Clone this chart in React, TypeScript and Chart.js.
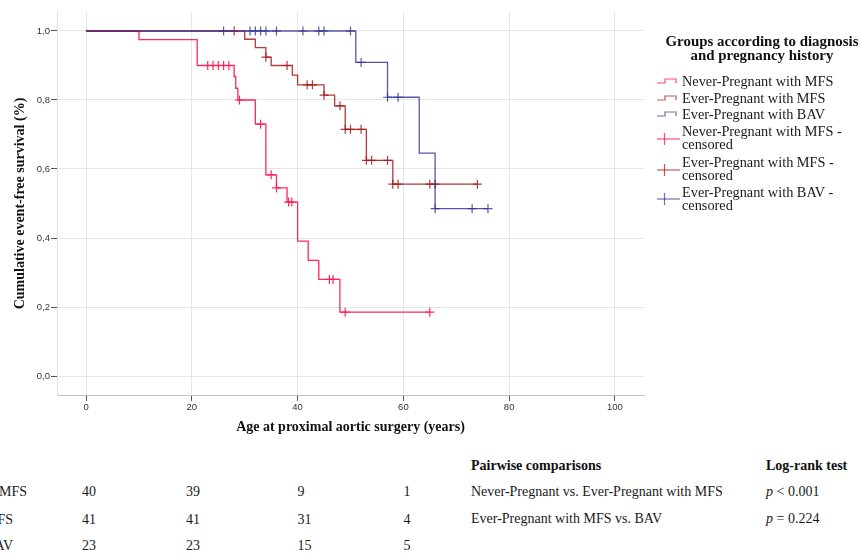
import React, { useEffect, useRef } from "react";
import { Chart, registerables } from "chart.js";

Chart.register(...registerables);

// ---- Kaplan-Meier step data (time in years, survival) ----
const neverT = [0, 10, 21, 28, 28.3, 28.7, 32, 34, 36, 38, 40, 42, 44, 48, 65];
const neverS = [1, 0.975, 0.9, 0.868, 0.834, 0.8, 0.73, 0.583, 0.545, 0.504, 0.391, 0.335, 0.28, 0.185, 0.185];
const neverCensored = [23, 24, 25, 26, 27, 29, 33, 35, 36, 38.3, 38.9, 46, 46.7, 49, 65];

const everMfsT = [0, 30, 32, 34, 35, 39, 40, 45, 47, 49, 53, 58, 74];
const everMfsS = [1, 0.976, 0.952, 0.924, 0.9, 0.872, 0.844, 0.814, 0.783, 0.715, 0.625, 0.556, 0.556];
const everMfsCensored = [28, 34, 38, 41.8, 42.8, 45, 48, 49, 50, 52, 53, 54, 57, 58, 59, 65, 66, 74];

const bavT = [0, 51, 57, 63, 66, 76];
const bavS = [1, 0.909, 0.808, 0.646, 0.485, 0.485];
const bavCensored = [26, 31, 32, 33, 34, 36, 41, 44, 45, 50, 52, 57, 59, 66, 73, 76];

// ---- axis ticks ----
const xTicks = [0, 20, 40, 60, 80, 100];
const yTicks = [0, 0.2, 0.4, 0.6, 0.8, 1.0];

// ---- numbers at risk ----
const riskLabels = ["Never-Pregnant with MFS", "Ever-Pregnant with MFS", "Ever-Pregnant with BAV"];
const riskNever = [40, 39, 9, 1];
const riskEverMfs = [41, 41, 31, 4];
const riskBav = [23, 23, 15, 5];

// ---- pairwise comparisons ----
const compLabels = ["Never-Pregnant vs. Ever-Pregnant with MFS", "Ever-Pregnant with MFS vs. BAV"];
const compOps = ["<", "="];
const compValues = ["0.001", "0.224"];

// ---- legend ----
const legendNames = ["Never-Pregnant with MFS", "Ever-Pregnant with MFS", "Ever-Pregnant with BAV"];

const PINK = "rgba(255,30,85,0.95)";
const RED = "rgba(165,25,25,0.85)";
const BLUE = "rgba(45,45,145,0.8)";
const colors = [PINK, RED, BLUE];

const SERIF = "'Liberation Serif', 'Times New Roman', serif";

function survivalAt(T: number[], S: number[], t: number) {
  let s = S[0];
  for (let i = 0; i < T.length; i++) if (T[i] <= t) s = S[i];
  return s;
}

function stepData(T: number[], S: number[]) {
  return T.map((t, i) => ({ x: t, y: S[i] }));
}

function censorData(T: number[], S: number[], C: number[]) {
  return C.map((t) => ({ x: t, y: survivalAt(T, S, t) }));
}

export default function App() {
  const ref = useRef<HTMLCanvasElement | null>(null);

  useEffect(() => {
    if (!ref.current) return;
    const lineDs = (label: string, T: number[], S: number[], color: string, order: number) => ({
      type: "line" as const,
      label,
      data: stepData(T, S),
      stepped: true,
      borderColor: color,
      borderWidth: 1.3,
      pointRadius: 0,
      fill: false,
      order,
    });
    const censDs = (label: string, T: number[], S: number[], C: number[], color: string, order: number) => ({
      type: "scatter" as const,
      label,
      data: censorData(T, S, C),
      pointStyle: "cross",
      pointRadius: 4.5,
      pointBorderWidth: 1.2,
      borderColor: color,
      backgroundColor: color,
      order,
    });
    const chart = new Chart(ref.current, {
      type: "line",
      data: {
        datasets: [
          lineDs(legendNames[2], bavT, bavS, BLUE, 1),
          censDs(legendNames[2] + " - censored", bavT, bavS, bavCensored, BLUE, 0),
          lineDs(legendNames[1], everMfsT, everMfsS, RED, 3),
          censDs(legendNames[1] + " - censored", everMfsT, everMfsS, everMfsCensored, RED, 2),
          lineDs(legendNames[0], neverT, neverS, PINK, 5),
          censDs(legendNames[0] + " - censored", neverT, neverS, neverCensored, PINK, 4),
        ] as any,
      },
      options: {
        animation: false,
        responsive: false,
        maintainAspectRatio: false,
        devicePixelRatio: 1,
        layout: { padding: { top: 12, right: 217, bottom: 0, left: 0 } },
        plugins: { legend: { display: false }, tooltip: { enabled: false } },
        scales: {
          x: {
            type: "linear",
            min: -5.5,
            max: 105.5,
            afterBuildTicks: (s: any) => {
              s.ticks = xTicks.map((v) => ({ value: v }));
            },
            afterFit: (s: any) => {
              s.height = 45;
            },
            ticks: {
              color: "#333",
              padding: 1,
              font: { family: "'Liberation Sans', Arial, sans-serif", size: 9.5 },
              callback: (v: any) => String(v),
            },
            grid: { color: "#e6e6e6", lineWidth: 1, tickLength: 6, tickColor: "#555" },
            border: { display: true, color: "#c4c4c4", width: 1 },
            title: {
              display: true,
              text: "Age at proximal aortic surgery (years)",
              color: "#111",
              font: { family: SERIF, size: 14, weight: "bold" },
              padding: { top: 0, bottom: 4.6 },
            },
          },
          y: {
            type: "linear",
            min: -0.055,
            max: 1.055,
            afterBuildTicks: (s: any) => {
              s.ticks = yTicks.map((v) => ({ value: v }));
            },
            afterFit: (s: any) => {
              s.width = 57;
            },
            ticks: {
              color: "#333",
              padding: 1,
              font: { family: "'Liberation Sans', Arial, sans-serif", size: 9.5 },
              callback: (v: any) => Number(v).toFixed(1).replace(".", ","),
            },
            grid: { color: "#e6e6e6", lineWidth: 1, tickLength: 6, tickColor: "#555" },
            border: { display: true, color: "#e0e0e0", width: 1 },
            title: {
              display: true,
              text: "Cumulative event-free survival (%)",
              color: "#111",
              font: { family: SERIF, size: 14, weight: "bold" },
              padding: { top: 11.6, bottom: 0 },
            },
          },
        },
      } as any,
    });
    return () => chart.destroy();
  }, []);

  const textStyle: React.CSSProperties = {
    position: "absolute",
    fontFamily: SERIF,
    fontSize: 14,
    color: "#1a1a1a",
    whiteSpace: "nowrap",
    lineHeight: "14px",
  };

  const riskRows = [riskNever, riskEverMfs, riskBav];
  const riskRowY = [492, 519.5, 546];
  const riskLabelEnd = [27, 13, 13];
  const colLeft = [82, 186, 297.5, 403.5];

  const legendY = [
    [80.7],
    [97.5],
    [113.7],
    [131.7, 145],
    [162.7, 175.5],
    [192.7, 205],
  ];

  return (
    <div style={{ position: "fixed", left: 0, top: 0, width: 861, height: 557, overflow: "hidden", background: "#fff" }}>
      <canvas ref={ref} width={861} height={440} style={{ position: "absolute", left: 0, top: 0, width: 861, height: 440 }} />

      {/* legend title */}
      <div
        style={{
          ...textStyle,
          left: 662,
          width: 200,
          top: 35,
          textAlign: "center",
          fontWeight: "bold",
          fontSize: 14.9,
          lineHeight: "13.5px",
          color: "#111",
        }}
      >
        Groups according to diagnosis
        <br />
        and pregnancy history
      </div>

      {/* legend items */}
      {legendNames.map((name, i) => (
        <React.Fragment key={"l" + i}>
          <svg style={{ position: "absolute", left: 656, top: legendY[i][0] - 2.4 }} width={24} height={8}>
            <polyline points="1,5 9,5 9,1 20,1 20,5" fill="none" stroke={colors[i]} strokeWidth={1.2} opacity={0.85} />
          </svg>
          <div style={{ ...textStyle, left: 682, top: legendY[i][0] - 7, fontSize: 14.3, lineHeight: "14px" }}>{name}</div>
        </React.Fragment>
      ))}
      {legendNames.map((name, i) => {
        const ys = legendY[i + 3];
        const cy = (ys[0] + ys[1]) / 2 + 0.5;
        return (
          <React.Fragment key={"c" + i}>
            <svg style={{ position: "absolute", left: 656, top: cy - 7 }} width={26} height={14}>
              <line x1={1} y1={7} x2={24} y2={7} stroke={colors[i]} strokeWidth={1.2} opacity={0.85} />
              <line x1={8.5} y1={1} x2={8.5} y2={13} stroke={colors[i]} strokeWidth={1.2} opacity={0.85} />
            </svg>
            <div style={{ ...textStyle, left: 682, top: ys[0] - 7, fontSize: 14.3, lineHeight: "13px" }}>
              {name} -
              <br />
              censored
            </div>
          </React.Fragment>
        );
      })}

      {/* numbers at risk */}
      {riskRows.map((row, r) => (
        <React.Fragment key={"r" + r}>
          <div style={{ ...textStyle, left: riskLabelEnd[r] - 300, width: 300, textAlign: "right", top: riskRowY[r] - 7 }}>
            {riskLabels[r]}
          </div>
          {row.map((v, c) => (
            <div key={c} style={{ ...textStyle, left: colLeft[c], top: riskRowY[r] - 7 }}>
              {v}
            </div>
          ))}
        </React.Fragment>
      ))}

      {/* pairwise comparisons */}
      <div style={{ ...textStyle, left: 471, top: 465.5 - 7, fontWeight: "bold", color: "#111" }}>Pairwise comparisons</div>
      <div style={{ ...textStyle, left: 766, top: 465.5 - 7, fontWeight: "bold", color: "#111" }}>Log-rank test</div>
      {compLabels.map((lab, i) => (
        <React.Fragment key={"p" + i}>
          <div style={{ ...textStyle, left: 471, top: [491.5, 518.5][i] - 7 }}>{lab}</div>
          <div style={{ ...textStyle, left: 766, top: [491.5, 518.5][i] - 7 }}>
            <i>p</i>
            {" " + compOps[i] + " " + compValues[i]}
          </div>
        </React.Fragment>
      ))}
    </div>
  );
}
